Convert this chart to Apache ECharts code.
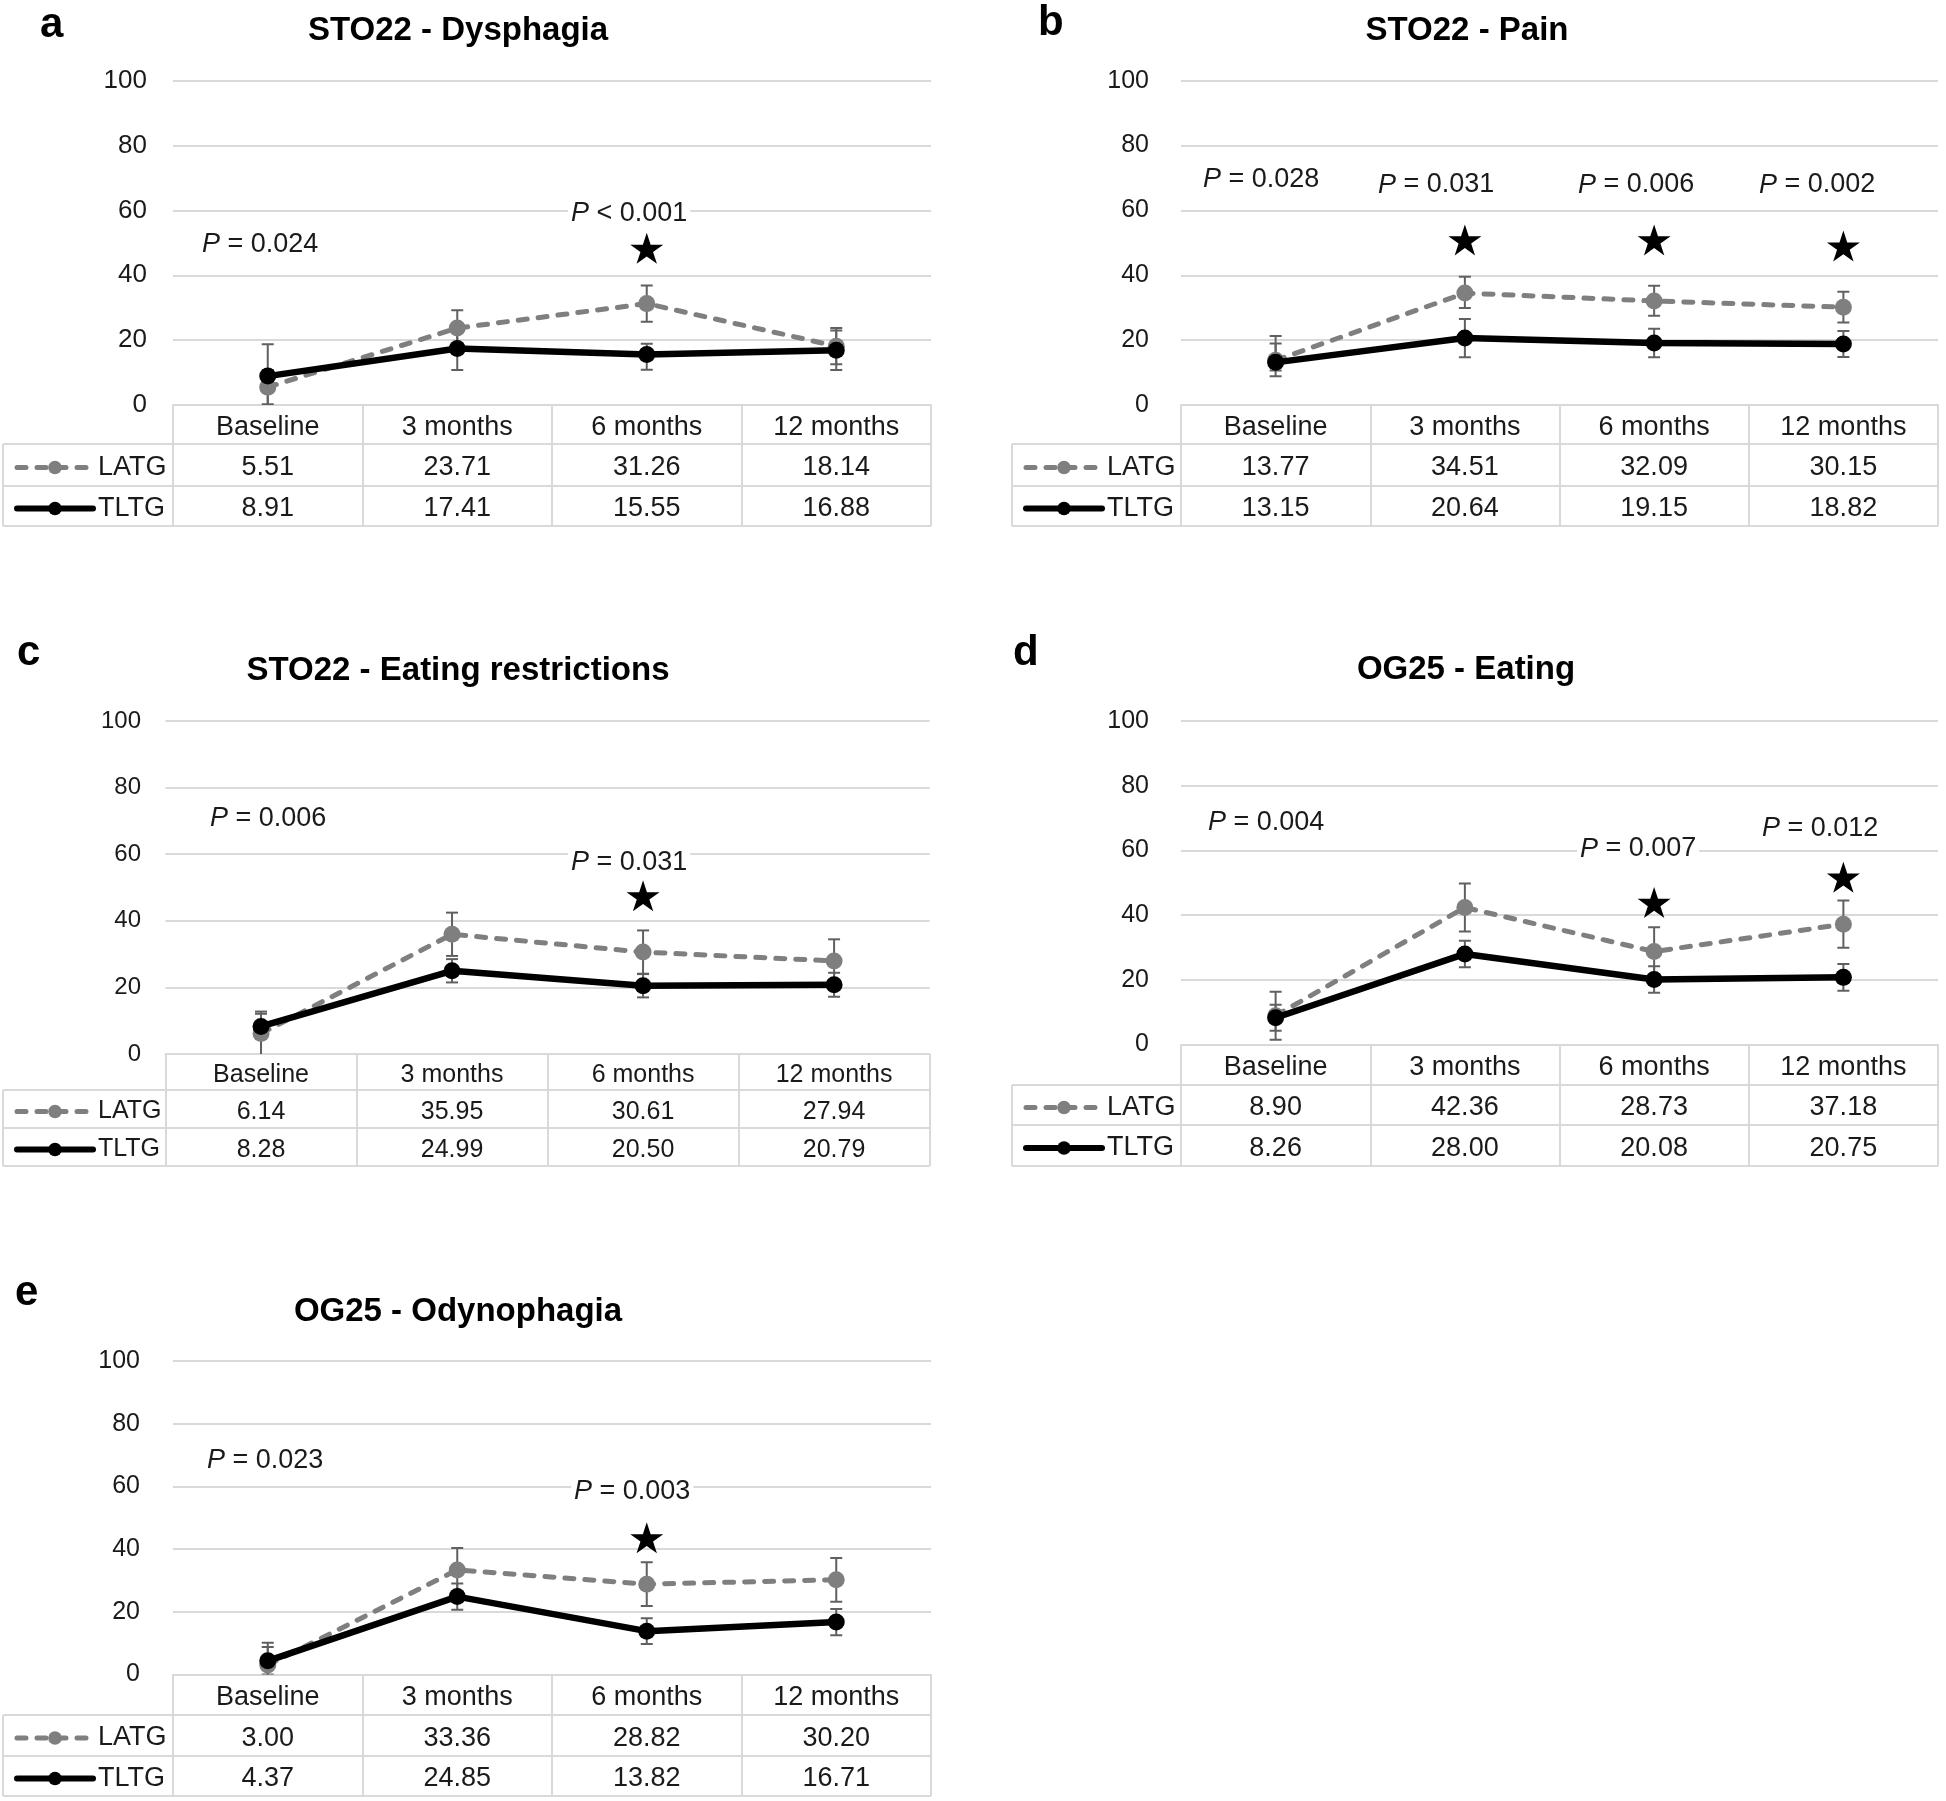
<!DOCTYPE html>
<html>
<head>
<meta charset="utf-8">
<script src="https://cdn.jsdelivr.net/npm/echarts@6/dist/echarts.min.js"></script>
<style>
html,body{margin:0;padding:0;background:#ffffff;}
#chart{width:1946px;height:1801px;}
</style>
</head>
<body>
<div id="chart"></div>
<script>
// ---------------- DATA ----------------
const categories = ['Baseline', '3 months', '6 months', '12 months'];
const seriesNames = ['LATG', 'TLTG'];
const panelLetters = ['a', 'b', 'c', 'd', 'e'];
const panelTitles = ['STO22 - Dysphagia', 'STO22 - Pain', 'STO22 - Eating restrictions', 'OG25 - Eating', 'OG25 - Odynophagia'];
const yTickValues = [0, 20, 40, 60, 80, 100];

// a: STO22 - Dysphagia
const latgDysphagia = [5.51, 23.71, 31.26, 18.14];
const tltgDysphagia = [8.91, 17.41, 15.55, 16.88];
const latgErrDysphagia = [[5.3, 5.3], [5.5, 5.5], [5.6, 5.6], [5.6, 5.6]];
const tltgErrDysphagia = [[9.8, 9.8], [6.6, 6.6], [4.7, 3.3], [6.1, 6.1]];
const starDysphagia = [null, null, 48.3, null];
const pDysphagia = ['P = 0.024', 'P < 0.001'];

// b: STO22 - Pain
const latgPain = [13.77, 34.51, 32.09, 30.15];
const tltgPain = [13.15, 20.64, 19.15, 18.82];
const latgErrPain = [[4.9, 7.5], [4.6, 5.0], [4.6, 4.7], [4.7, 4.8]];
const tltgErrPain = [[2.5, 5.85], [5.9, 5.9], [4.4, 4.4], [4.0, 4.0]];
const starPain = [null, 50.9, 50.9, 49.0];
const pPain = ['P = 0.028', 'P = 0.031', 'P = 0.006', 'P = 0.002'];

// c: STO22 - Eating restrictions
const latgEatRestr = [6.14, 35.95, 30.61, 27.94];
const tltgEatRestr = [8.28, 24.99, 20.50, 20.79];
const latgErrEatRestr = [[6.6, 6.6], [6.5, 6.5], [6.5, 6.5], [6.5, 6.5]];
const tltgErrEatRestr = [[3.8, 3.8], [3.5, 3.5], [3.5, 3.5], [3.6, 3.6]];
const starEatRestr = [null, null, 47.5, null];
const pEatRestr = ['P = 0.006', 'P = 0.031'];

// d: OG25 - Eating
const latgEating = [8.90, 42.36, 28.73, 37.18];
const tltgEating = [8.26, 28.00, 20.08, 20.75];
const latgErrEating = [[7.4, 7.4], [7.4, 7.4], [7.5, 7.5], [7.3, 7.3]];
const tltgErrEating = [[4.0, 4.0], [4.1, 4.1], [4.1, 4.1], [4.1, 4.1]];
const starEating = [null, null, 43.9, 51.7];
const pEating = ['P = 0.004', 'P = 0.007', 'P = 0.012'];

// e: OG25 - Odynophagia
const latgOdyno = [3.00, 33.36, 28.82, 30.20];
const tltgOdyno = [4.37, 24.85, 13.82, 16.71];
const latgErrOdyno = [[7.1, 7.1], [7.0, 7.0], [7.0, 7.0], [7.0, 7.0]];
const tltgErrOdyno = [[4.4, 4.4], [4.2, 4.2], [4.1, 4.1], [4.2, 4.2]];
const starOdyno = [null, null, 43.6, null];
const pOdyno = ['P = 0.023', 'P = 0.003'];

// ---------------- STYLE / LAYOUT ----------------
const FONT = "'Liberation Sans', Arial, Helvetica, sans-serif";
const TEXT = '#1a1a1a';
const GRIDC = '#d9d9d9';
const LATG_C = '#7f7f7f';
const TLTG_C = '#000000';
const ERR_C = '#606060';
const TY = 2.5; // vertical text nudge
const STAR_PATH = 'path://M50,0 L61.2,34.5 L97.6,34.5 L68.2,55.9 L79.4,90.5 L50,69.1 L20.6,90.5 L31.8,55.9 L2.4,34.5 L38.8,34.5 Z';

const panelData = [
  {latg: latgDysphagia, tltg: tltgDysphagia, latgErr: latgErrDysphagia, tltgErr: tltgErrDysphagia, stars: starDysphagia, p: pDysphagia},
  {latg: latgPain, tltg: tltgPain, latgErr: latgErrPain, tltgErr: tltgErrPain, stars: starPain, p: pPain},
  {latg: latgEatRestr, tltg: tltgEatRestr, latgErr: latgErrEatRestr, tltgErr: tltgErrEatRestr, stars: starEatRestr, p: pEatRestr},
  {latg: latgEating, tltg: tltgEating, latgErr: latgErrEating, tltgErr: tltgErrEating, stars: starEating, p: pEating},
  {latg: latgOdyno, tltg: tltgOdyno, latgErr: latgErrOdyno, tltgErr: tltgErrOdyno, stars: starOdyno, p: pOdyno}
];

const layouts = [
  {gl: 173, gr: 931, gt: 80.7, gb: 405, rows: [405, 444, 486, 526], legendLeft: 3, yMargin: 26, tickFs: 26, tableFs: 27,
   title: [458, 28.3], letter: [40, 23.1], p: [[202, 241.7], [571, 210.8]]},
  {gl: 1181, gr: 1938, gt: 80.7, gb: 405, rows: [405, 444, 486, 526], legendLeft: 1012, yMargin: 32, tickFs: 25, tableFs: 27,
   title: [1467, 28.6], letter: [1038, 21.4], p: [[1203, 177.4], [1378, 182.5], [1578, 182.5], [1759, 182.5]]},
  {gl: 165.5, gr: 929.6, gt: 721, gb: 1054, rows: [1054, 1090, 1128, 1166], legendLeft: 3, yMargin: 24.5, tickFs: 24, tableFs: 25,
   title: [458, 668.6], letter: [17, 651.4], p: [[210, 816], [571, 860]]},
  {gl: 1181, gr: 1938, gt: 721, gb: 1044.5, rows: [1044.5, 1085, 1125, 1166], legendLeft: 1012, yMargin: 32, tickFs: 25, tableFs: 27,
   title: [1466, 667.7], letter: [1013, 651.4], p: [[1208, 819.7], [1580, 846.5], [1762, 825.9]]},
  {gl: 173, gr: 931, gt: 1361, gb: 1674.5, rows: [1674.5, 1715, 1756, 1796], legendLeft: 3, yMargin: 33, tickFs: 25, tableFs: 27,
   title: [458, 1309], letter: [15, 1291], p: [[207, 1457.8], [574, 1489]]}
];

// ---------------- BUILD ----------------
const grid = [], xAxis = [], yAxis = [], series = [], legend = [], graphics = [];

function errorSeries(k, vals, errs, name) {
  return {
    type: 'custom', name: name + ' SE', xAxisIndex: 3 * k, yAxisIndex: k, clip: true, z: 2, silent: true,
    data: vals.map((v, i) => [i, v - errs[i][0], v + errs[i][1]]),
    encode: {x: 0, y: [1, 2]},
    renderItem: function (params, api) {
      const lo = api.coord([api.value(0), api.value(1)]);
      const hi = api.coord([api.value(0), api.value(2)]);
      const cw = 6;
      const st = {stroke: ERR_C, lineWidth: 2};
      return {type: 'group', children: [
        {type: 'line', shape: {x1: lo[0], y1: lo[1], x2: hi[0], y2: hi[1]}, style: st},
        {type: 'line', shape: {x1: lo[0] - cw, y1: lo[1], x2: lo[0] + cw, y2: lo[1]}, style: st},
        {type: 'line', shape: {x1: hi[0] - cw, y1: hi[1], x2: hi[0] + cw, y2: hi[1]}, style: st}
      ]};
    }
  };
}

panelData.forEach((D, k) => {
  const L = layouts[k];
  const r = L.rows;
  const fs = L.tableFs;
  grid.push({left: L.gl, top: L.gt, width: L.gr - L.gl, height: L.gb - L.gt, containLabel: false, outerBoundsMode: 'none'});

  const lbl = {interval: 0, fontSize: fs, lineHeight: fs, fontFamily: FONT, color: TEXT};
  xAxis.push({
    type: 'category', gridIndex: k, data: categories, position: 'bottom', boundaryGap: true,
    axisLine: {show: true, lineStyle: {color: GRIDC, width: 2}},
    axisTick: {show: true, interval: 0, inside: false, length: r[3] - r[0], lineStyle: {color: GRIDC, width: 2}},
    axisLabel: Object.assign({}, lbl, {margin: (r[1] - r[0]) / 2 + 0.5 + TY - fs / 2}),
    splitLine: {show: false}
  });
  xAxis.push({
    type: 'category', gridIndex: k, data: D.latg.map(v => v.toFixed(2)), position: 'bottom', offset: r[1] - r[0],
    axisLine: {show: false}, axisTick: {show: false}, splitLine: {show: false},
    axisLabel: Object.assign({}, lbl, {margin: (r[2] - r[1]) / 2 + 0.5 + TY - fs / 2})
  });
  xAxis.push({
    type: 'category', gridIndex: k, data: D.tltg.map(v => v.toFixed(2)), position: 'bottom', offset: r[2] - r[0],
    axisLine: {show: false}, axisTick: {show: false}, splitLine: {show: false},
    axisLabel: Object.assign({}, lbl, {margin: (r[3] - r[2]) / 2 + 0.5 + TY - fs / 2})
  });
  yAxis.push({
    type: 'value', gridIndex: k, min: yTickValues[0], max: yTickValues[yTickValues.length - 1], interval: yTickValues[1] - yTickValues[0],
    axisLine: {show: false}, axisTick: {show: false},
    axisLabel: {fontSize: L.tickFs, fontFamily: FONT, color: TEXT, margin: L.yMargin, padding: [2 * TY, 0, 0, 0]},
    splitLine: {show: true, lineStyle: {color: GRIDC, width: 2}}
  });

  series.push(errorSeries(k, D.latg, D.latgErr, seriesNames[0]));
  series.push(errorSeries(k, D.tltg, D.tltgErr, seriesNames[1]));
  series.push({
    type: 'line', name: seriesNames[0], xAxisIndex: 3 * k, yAxisIndex: k, data: D.latg,
    symbol: 'circle', symbolSize: 17, z: 3, silent: true,
    lineStyle: {color: LATG_C, width: 5, type: [9, 11], cap: 'round'},
    itemStyle: {color: LATG_C, borderWidth: 0}
  });
  series.push({
    type: 'line', name: seriesNames[1], xAxisIndex: 3 * k, yAxisIndex: k, data: D.tltg,
    symbol: 'circle', symbolSize: 17, z: 4, silent: true,
    lineStyle: {color: TLTG_C, width: 6.5, cap: 'round'},
    itemStyle: {color: TLTG_C, borderWidth: 0}
  });
  series.push({
    type: 'scatter', name: 'significant', xAxisIndex: 3 * k, yAxisIndex: k, z: 5, silent: true,
    symbol: STAR_PATH, symbolSize: [33, 31], itemStyle: {color: '#000', opacity: 1},
    data: D.stars.map((v, i) => v == null ? null : [i, v]).filter(d => d)
  });

  legend.push({
    orient: 'vertical', left: L.legendLeft + 11, top: (r[1] + r[2]) / 2 - fs / 2 + TY, padding: 0,
    itemGap: (r[3] - r[1]) / 2 - fs, itemWidth: 76, itemHeight: 17, selectedMode: false,
    lineStyle: {width: 5.5},
    textStyle: {fontSize: fs, lineHeight: fs, fontFamily: FONT, color: TEXT},
    data: [{name: seriesNames[0], lineStyle: {width: 5}}, {name: seriesNames[1], lineStyle: {width: 6}}]
  });

  // table borders
  [r[1], r[2], r[3]].forEach(y => graphics.push({
    type: 'line', silent: true, shape: {x1: L.legendLeft, y1: y, x2: L.gr, y2: y}, style: {stroke: GRIDC, lineWidth: 2}
  }));
  graphics.push({type: 'line', silent: true, shape: {x1: L.legendLeft, y1: r[1], x2: L.legendLeft, y2: r[3]}, style: {stroke: GRIDC, lineWidth: 2}});

  // title and panel letter
  graphics.push({type: 'text', silent: true, x: L.title[0], y: L.title[1] + TY,
    style: {text: panelTitles[k], fontSize: 33, fontWeight: 'bold', fontFamily: FONT, fill: '#000', align: 'center', verticalAlign: 'middle'}});
  graphics.push({type: 'text', silent: true, x: L.letter[0], y: L.letter[1] + TY,
    style: {text: panelLetters[k], fontSize: 42, fontWeight: 'bold', fontFamily: FONT, fill: '#000', align: 'left', verticalAlign: 'middle'}});

  // P-value annotations (white text box as in the original)
  D.p.forEach((t, j) => {
    graphics.push({type: 'text', silent: true, z: 10, x: L.p[j][0] - 3, y: L.p[j][1] + TY,
      style: {text: t.replace(/^P/, '{i|P}'), fontSize: 27, fontFamily: FONT, fill: TEXT, align: 'left', verticalAlign: 'middle',
        backgroundColor: '#ffffff', padding: [0, 3, 0, 3],
        rich: {i: {fontStyle: 'italic', fontSize: 27, fontFamily: FONT, fill: TEXT}}}});
  });
});

const chart = echarts.init(document.getElementById('chart'), null, {renderer: 'canvas'});
chart.setOption({
  animation: false,
  backgroundColor: '#ffffff',
  textStyle: {fontFamily: FONT},
  tooltip: {show: false},
  grid: grid, xAxis: xAxis, yAxis: yAxis, legend: legend, series: series,
  graphic: {elements: graphics}
});
</script>
</body>
</html>
